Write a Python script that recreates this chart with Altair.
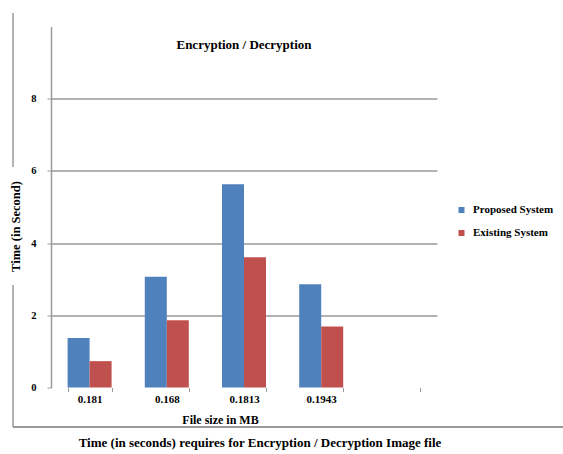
import altair as alt
import pandas as pd

# Encryption / decryption time per image file size
file_sizes = ["0.181", "0.168", "0.1813", "0.1943"]
proposed_time = [1.37, 3.07, 5.63, 2.86]
existing_time = [0.73, 1.86, 3.61, 1.69]
systems = ["Proposed System", "Existing System"]
system_colors = ["#4F81BD", "#C0504D"]
x_slots = file_sizes + [""]          # trailing empty slot on the category axis
y_ticks = [0, 2, 4, 6, 8]

rows = []
for size, p, e in zip(file_sizes, proposed_time, existing_time):
    rows.append({"size": size, "system": systems[0], "time": p})
    rows.append({"size": size, "system": systems[1], "time": e})
df = pd.DataFrame(rows)

FONT = "Liberation Serif"
GRID = "#9a9a9a"
W, H = 386, 361
PAD = {"left": 51, "top": 26.5, "right": 563 - 51 - W, "bottom": 454 - 26.5 - H}

bars = alt.Chart(df).mark_bar().encode(
    x=alt.X(
        "size:N",
        scale=alt.Scale(domain=x_slots, paddingInner=0.43, paddingOuter=0.215),
        axis=alt.Axis(
            title="File size in MB", labelAngle=0, domain=False,
            tickBand="extent", tickSize=4, tickColor=GRID,
            labelFont=FONT, labelFontWeight="bold", labelFontSize=11,
            labelColor="#000", labelPadding=2,
            titleFont=FONT, titleFontWeight="bold", titleFontSize=12,
            titleColor="#000", titleX=169, titleY=27,
        ),
    ),
    xOffset=alt.XOffset("system:N", sort=systems),
    y=alt.Y(
        "time:Q",
        scale=alt.Scale(domain=[0, 10]),
        axis=alt.Axis(
            values=y_ticks, title="Time (in Second)",
            grid=True, gridColor=GRID, gridWidth=1.5,
            gridOpacity={"condition": {"test": "datum.value === 0", "value": 0}, "value": 1},
            domainColor=GRID, domainWidth=1.5, tickColor=GRID, tickSize=4,
            labelFont=FONT, labelFontWeight="bold", labelFontSize=10.5,
            labelColor="#000", labelPadding=11,
            titleFont=FONT, titleFontWeight="bold", titleFontSize=12.5,
            titleColor="#000", titleX=-29, titleY=199.5,
        ),
    ),
    color=alt.Color(
        "system:N",
        scale=alt.Scale(domain=systems, range=system_colors),
        legend=alt.Legend(
            title=None, orient="none", legendX=405, legendY=178,
            symbolType="square", symbolSize=36, symbolStrokeWidth=0,
            labelFont=FONT, labelFontWeight="bold", labelFontSize=11,
            labelColor="#000", labelOffset=6, rowPadding=11,
        ),
    ),
)

# outer frame: left edge broken around the y-axis title, and bottom edge
one = alt.Data(values=[{}])
frame_top = alt.Chart(one).mark_rule(color=GRID, strokeWidth=1.5).encode(
    x=alt.value(-38), y=alt.value(-13.5), y2=alt.value(140.5))
frame_low = alt.Chart(one).mark_rule(color=GRID, strokeWidth=1.5).encode(
    x=alt.value(-38), y=alt.value(258.5), y2=alt.value(400.5))
frame_bottom = alt.Chart(one).mark_rule(color=GRID, strokeWidth=2).encode(
    x=alt.value(-38), x2=alt.value(512), y=alt.value(400.5))

caption = alt.Chart(one).mark_text(
    text="Time (in seconds) requires for Encryption / Decryption Image file",
    font=FONT, fontWeight="bold", fontSize=13, color="#000",
    align="center", baseline="middle",
).encode(x=alt.value(209), y=alt.value(416.5))

chart = alt.layer(bars, frame_top, frame_low, frame_bottom, caption).properties(
    width=W, height=H,
    padding=PAD,
    autosize=alt.AutoSizeParams(type="none"),
    title=alt.TitleParams(
        "Encryption / Decryption", font=FONT, fontWeight="bold", fontSize=13,
        color="#000", anchor="middle", frame="group", offset=-40,
    ),
).configure(background="white", view=alt.ViewConfig(stroke=None))

chart.save("out.html", embed_options={"renderer": "svg", "actions": False})
